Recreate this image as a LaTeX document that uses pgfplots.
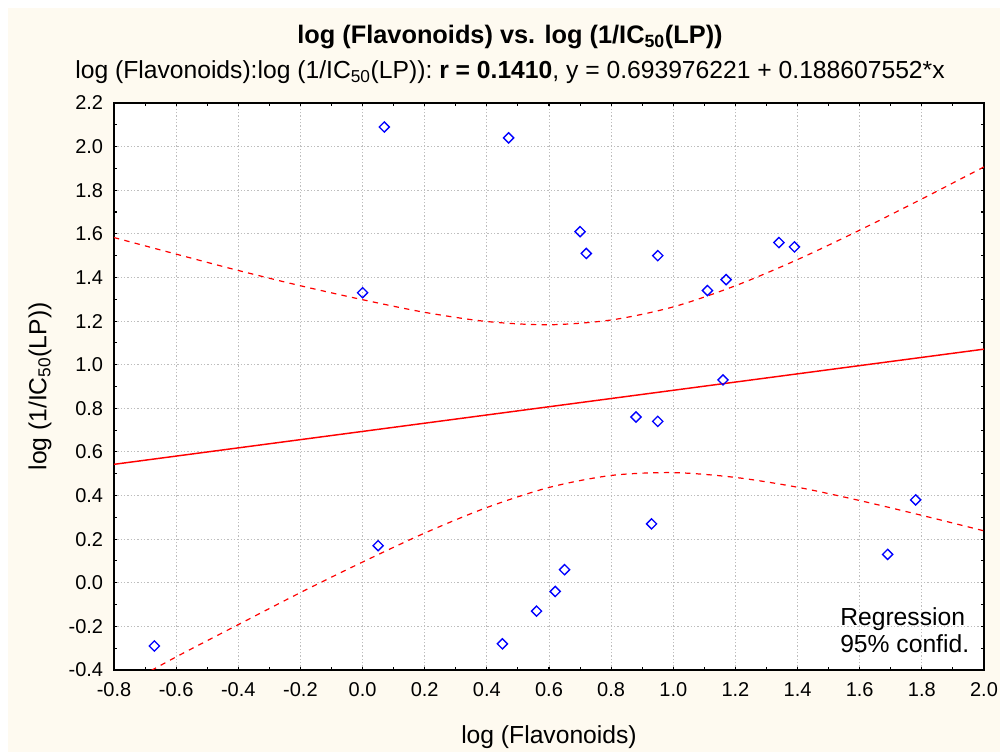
\documentclass[border=0pt]{standalone}
\usepackage{fontspec}
\setmainfont{Liberation Sans}
\usepackage{pgfplots}
\pgfplotsset{compat=1.18}
\definecolor{cream}{RGB}{254,250,240}
\definecolor{gridgray}{RGB}{190,190,190}
\begin{document}
\begin{tikzpicture}
\useasboundingbox[fill=white] (-85.5pt,-61.5pt) rectangle (664.5pt,502.5pt);
\fill[cream] (-79.5pt,-61.5pt) rectangle (664.5pt,496.5pt);
\begin{axis}[
  scale only axis,
  width=652.5pt, height=425.25pt,
  xmin=-0.8, xmax=2.0, ymin=-0.4, ymax=2.2,
  axis background/.style={fill=white},
  axis line style={black, line width=1.3pt},
  xtick={-0.8,-0.6,...,2.01}, ytick={-0.4,-0.2,...,2.21},
  minor x tick num=1, minor y tick num=1,
  tick align=inside, ticks=both,
  xtick pos=both, ytick pos=both,
  major tick length=2.5pt, minor tick length=2.5pt,
  every tick/.style={black, line width=0.8pt},
  grid=major,
  major grid style={gridgray, line width=0.7pt, dash pattern=on 0.9pt off 1.6pt},
  /pgf/number format/assume math mode=true,
  /pgf/number format/.cd, fixed, fixed zerofill, precision=1, /tikz/.cd,
  tick label style={font=\fontsize{15}{18}\selectfont},
  xticklabel style={anchor=center, yshift=-15pt},
  yticklabel style={anchor=east, inner sep=0pt, xshift=-8pt},
  xlabel={log (Flavonoids)},
  ylabel={log (1/IC\textsubscript{50}(LP))},
  every axis x label/.style={at={(rel axis cs:0.5,0)}, anchor=center, yshift=-50pt, font=\fontsize{18.5}{22}\selectfont},
  every axis y label/.style={at={(rel axis cs:0,0.5)}, anchor=center, xshift=-55.5pt, rotate=90, font=\fontsize{18.5}{22}\selectfont},
]
\addplot[red, line width=1.1pt] coordinates {(-0.8,0.5431) (2.0,1.0712)};
\addplot[red, line width=0.9pt, dash pattern=on 4pt off 4pt, smooth] coordinates {
(-0.8,1.583)(-0.6,1.507)(-0.4,1.432)(-0.2,1.362)(0,1.298)(0.2,1.240)(0.4,1.198)(0.6,1.183)(0.8,1.205)(1.0,1.265)(1.2,1.362)(1.4,1.482)(1.6,1.617)(1.8,1.760)(2.0,1.907)};
\addplot[red, line width=0.9pt, dash pattern=on 4pt off 4pt, smooth] coordinates {
(-0.8,-0.497)(-0.6,-0.340)(-0.4,-0.192)(-0.2,-0.045)(0,0.095)(0.2,0.228)(0.4,0.345)(0.6,0.437)(0.8,0.492)(1.0,0.505)(1.2,0.483)(1.4,0.438)(1.6,0.377)(1.8,0.309)(2.0,0.238)};
\addplot[only marks, mark=square, mark size=2.7pt, mark options={blue, line width=1pt, rotate=45, fill=none}] coordinates {
(-0.67,-0.29) (0.00,1.33) (0.07,2.09) (0.05,0.17) (0.47,2.04) (0.45,-0.28)
(0.56,-0.13) (0.62,-0.04) (0.65,0.06) (0.70,1.61) (0.72,1.51) (0.88,0.76)
(0.93,0.27) (0.95,1.50) (0.95,0.74) (1.11,1.34) (1.17,1.39) (1.16,0.93)
(1.34,1.56) (1.39,1.54) (1.69,0.13) (1.78,0.38)};
\end{axis}
\node[font=\fontsize{19}{22}\selectfont\bfseries] at (297pt,474.75pt) {log (Flavonoids) vs. log (1/IC\textsubscript{50}(LP))};
\node[font=\fontsize{18.5}{22}\selectfont] at (297pt,448.5pt) {log (Flavonoids):log (1/IC\textsubscript{50}(LP)): \textbf{r = 0.1410}, y = 0.693976221 + 0.188607552*x};
\node[font=\fontsize{18.5}{20.5}\selectfont, anchor=west, align=left, inner sep=0pt] at (544.5pt,30pt) {Regression\\95\% confid.};
\end{tikzpicture}
\end{document}
